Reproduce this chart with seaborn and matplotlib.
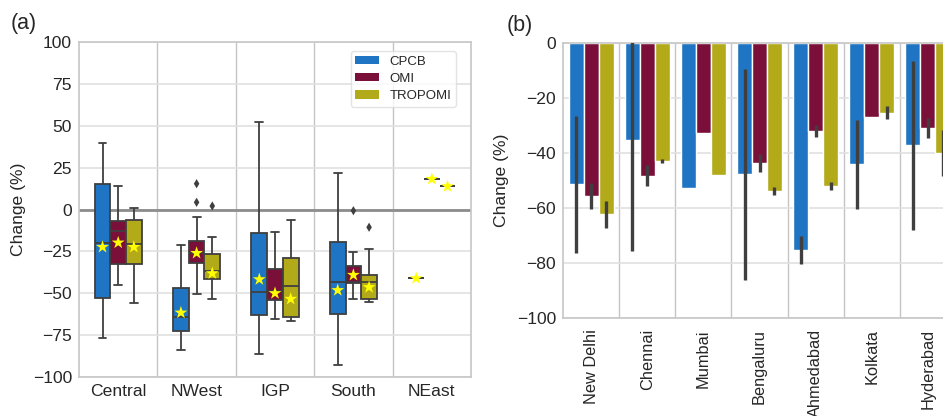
import numpy as np
import pandas as pd
import matplotlib
matplotlib.use("Agg")
import matplotlib.pyplot as plt
import matplotlib.patches as mpatches
import seaborn as sns

# --- DATA ---
sources = ["CPCB", "OMI", "TROPOMI"]
palette = ["#1f75c4", "#7a0f3a", "#b3aa19"]

# (a) regional change, box values read as [whisker low, Q1, median, Q3, whisker high]
regions = ["Central", "NWest", "IGP", "South", "NEast"]
cpcb_box = [
    [-76.9, -53.0, -20.2, 15.4, 39.7],
    [-83.9, -72.3, -64.2, -46.7, -21.2],
    [-86.5, -63.0, -49.4, -14.2, 52.2],
    [-93.0, -62.2, -43.5, -19.6, 21.8],
    [-41.1],
]
omi_box = [
    [-45.0, -32.7, -12.6, -6.7, 13.8],
    [-50.4, -32.1, -26.2, -18.8, -4.7],
    [-65.4, -54.0, -48.5, -35.7, -13.6],
    [-53.2, -44.0, -43.0, -33.7, -25.6],
    [18.2],
]
tropomi_box = [
    [-56.0, -32.7, -20.4, -6.3, 0.6],
    [-53.4, -41.7, -36.5, -26.7, -16.2],
    [-66.6, -64.4, -45.5, -29.2, -6.3],
    [-55.4, -53.6, -43.5, -39.1, -23.6],
    [13.8],
]
cpcb_mean = [-22.4, -61.6, -41.7, -48.2, -41.1]
omi_mean = [-19.8, -26.0, -50.0, -39.1, 18.2]
tropomi_mean = [-22.4, -38.1, -53.4, -46.4, 13.8]

flier_region = ["NWest", "NWest", "NWest", "South", "South"]
flier_source = ["OMI", "OMI", "TROPOMI", "OMI", "TROPOMI"]
flier_value = [15.4, 4.3, 2.1, -0.7, -10.6]

# (b) city change, mean and standard deviation
cities = ["New Delhi", "Chennai", "Mumbai", "Bengaluru", "Ahmedabad", "Kolkata", "Hyderabad"]
cpcb_city = [-51.3, -35.3, -52.6, -47.7, -75.3, -44.1, -37.2]
cpcb_sd = [24.9, 40.3, np.nan, 38.4, 5.1, 16.2, 30.7]
omi_city = [-55.6, -48.2, -32.8, -43.5, -31.9, -27.0, -31.0]
omi_sd = [4.8, 3.8, np.nan, 3.3, 2.1, np.nan, 3.6]
tropomi_city = [-62.3, -42.8, -48.0, -53.8, -52.0, -25.3, -40.0]
tropomi_sd = [5.0, 0.8, np.nan, 1.6, 1.3, 2.5, 8.3]

# --- TABLES ---
rows = []
for src, boxes in zip(sources, [cpcb_box, omi_box, tropomi_box]):
    for reg, vals in zip(regions, boxes):
        for v in vals:
            rows.append({"region": reg, "source": src, "change": v})
df_a = pd.DataFrame(rows)

box_w = 0.6 / len(sources)
mean_rows = []
for j, (src, means) in enumerate(zip(sources, [cpcb_mean, omi_mean, tropomi_mean])):
    for i, m in enumerate(means):
        mean_rows.append({"pos": i + (j - 1) * box_w, "change": m})
df_mean = pd.DataFrame(mean_rows)

df_flier = pd.DataFrame({
    "pos": [regions.index(r) + (sources.index(s) - 1) * box_w
            for r, s in zip(flier_region, flier_source)],
    "change": flier_value,
})

city_rows = []
for src, means in zip(sources, [cpcb_city, omi_city, tropomi_city]):
    for c, m in zip(cities, means):
        city_rows.append({"city": c, "source": src, "change": m})
df_b = pd.DataFrame(city_rows)

# --- STYLE ---
sns.set_theme(style="whitegrid")
plt.rcParams["font.family"] = ["Liberation Sans", "DejaVu Sans"]
plt.rcParams["axes.edgecolor"] = "#c8c8c8"
plt.rcParams["text.color"] = "#262626"
FS = 12.6

fig = plt.figure(figsize=(9.43, 4.16), dpi=100)
W, H = 943, 416
ax1 = fig.add_axes([79 / W, 1 - 377 / H, 392 / W, 335 / H])
ax2 = fig.add_axes([563 / W, 1 - 318 / H, 393 / W, 275 / H])

# --- (a) boxplot ---
sns.boxplot(data=df_a, x="region", y="change", hue="source", order=regions,
            hue_order=sources, palette=palette, saturation=1, width=0.6,
            linecolor="#3f3f3f", linewidth=1.3, showfliers=False,
            legend=False, ax=ax1)
sns.scatterplot(data=df_flier, x="pos", y="change", marker="d", s=22,
                color="#3f3f3f", edgecolor="none", zorder=4, ax=ax1)
sns.scatterplot(data=df_mean, x="pos", y="change", marker="*", s=95,
                color="#ffff00", edgecolor="none", zorder=5, ax=ax1)
ax1.axhline(0, color="#8c8c8c", lw=2, zorder=0.8)

ax1.set_xlim(-0.5, len(regions) - 0.5)
ax1.set_ylim(-100, 100)
ax1.set_yticks(np.arange(-100, 101, 25))
ax1.set_xticks(range(len(regions)))
ax1.set_xticklabels(regions)
ax1.set_xticks(np.arange(len(regions) - 1) + 0.5, minor=True)
ax1.grid(which="major", axis="x", visible=False)
ax1.grid(which="minor", axis="x", color="#c4c4c4", lw=1)
ax1.grid(which="major", axis="y", color="#e0e0e0", lw=1.2)
ax1.tick_params(which="both", length=0)
ax1.tick_params(axis="y", labelsize=FS, pad=5)
ax1.tick_params(axis="x", labelsize=FS, pad=5)
ax1.set_xlabel("")
ax1.set_ylabel("Change (%)", fontsize=FS)
ax1.yaxis.set_label_coords(-53 / 392, 0.5)

handles = [mpatches.Patch(facecolor=c, edgecolor="none", label=s)
           for s, c in zip(sources, palette)]
ax1.legend(handles=handles, loc="upper right", bbox_to_anchor=(0.962, 0.973),
           borderaxespad=0, fontsize=9.5, handlelength=1.8, handleheight=0.6,
           labelspacing=0.4, handletextpad=0.8, borderpad=0.35, frameon=True,
           edgecolor="#dddddd")

# --- (b) barplot ---
sns.barplot(data=df_b, x="city", y="change", hue="source", order=cities,
            hue_order=sources, palette=palette, saturation=1, errorbar=None,
            width=0.8, edgecolor="white", linewidth=1, legend=False, ax=ax2)
for cont, means, sds in zip(ax2.containers, [cpcb_city, omi_city, tropomi_city],
                            [cpcb_sd, omi_sd, tropomi_sd]):
    for bar, m, s in zip(cont, means, sds):
        if np.isnan(s):
            continue
        xc = bar.get_x() + bar.get_width() / 2
        ax2.plot([xc, xc], [m - s, m + s], color="#3f3f3f", lw=2.4,
                 solid_capstyle="butt", zorder=3)

ax2.set_xlim(-0.5, len(cities) - 0.5)
ax2.set_ylim(-100, 0)
ax2.set_yticks(np.arange(-100, 1, 20))
ax2.set_xticks(np.arange(len(cities) - 1) + 0.5, minor=True)
ax2.grid(which="major", axis="x", visible=False)
ax2.grid(which="minor", axis="x", color="#c4c4c4", lw=1)
ax2.grid(which="major", axis="y", color="#e0e0e0", lw=1.2)
ax2.tick_params(which="both", length=0)
ax2.tick_params(axis="y", labelsize=FS, pad=5)
ax2.tick_params(axis="x", labelsize=11.8, pad=8, rotation=90)
ax2.set_xlabel("")
ax2.set_ylabel("Change (%)", fontsize=FS)
ax2.yaxis.set_label_coords(-54 / 393, 0.5)

fig.text(11 / W, 1 - 24 / H, "(a)", fontsize=15.5, va="center", ha="left")
fig.text(507 / W, 1 - 25 / H, "(b)", fontsize=15.5, va="center", ha="left")

fig.savefig("out.png", dpi=100)
